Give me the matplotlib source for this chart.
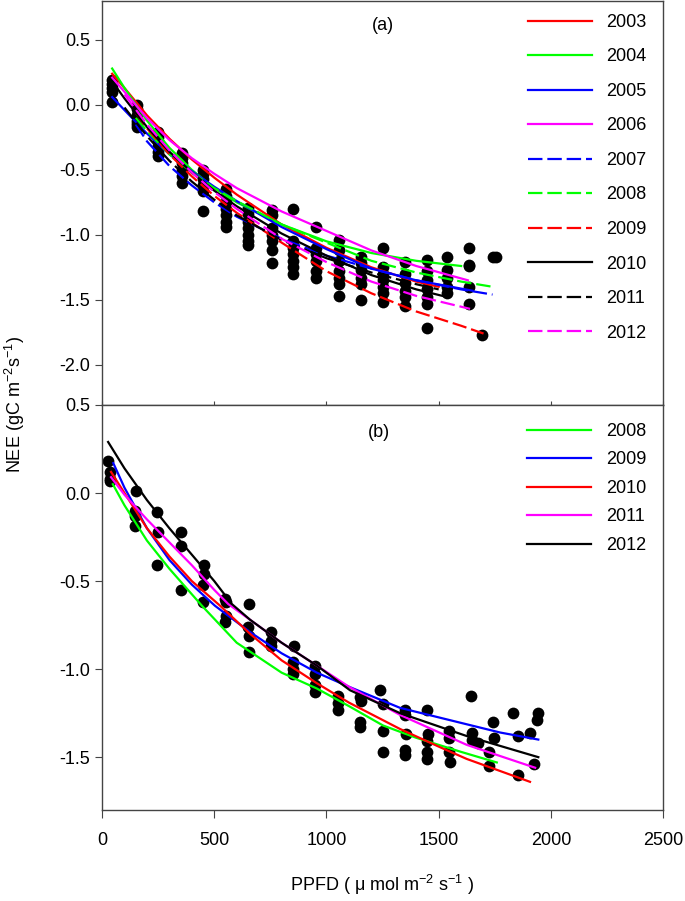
import numpy as np
import matplotlib
matplotlib.use("Agg")
import matplotlib.pyplot as plt
from matplotlib.lines import Line2D

plt.rcParams['font.family'] = ['Liberation Sans', 'DejaVu Sans']
plt.rcParams['font.size'] = 13
plt.rcParams['mathtext.fontset'] = 'custom'
plt.rcParams['mathtext.rm'] = 'Liberation Sans'
plt.rcParams['mathtext.default'] = 'regular'

# ---- panel (a): observed points (PPFD bin, NEE values)
bins_a = [45, 155, 250, 355, 452, 552, 652, 757, 852, 953, 1055, 1154, 1252,
          1350, 1448, 1537, 1636, 1693, 1740, 1756]
nee_a = [
    [0.19, 0.16, 0.13, 0.10, 0.02],
    [0.0, -0.03, -0.08, -0.12, -0.15, -0.17],
    [-0.21, -0.25, -0.28, -0.32, -0.36, -0.39],
    [-0.37, -0.41, -0.45, -0.50, -0.55, -0.60],
    [-0.50, -0.53, -0.57, -0.62, -0.66, -0.82],
    [-0.65, -0.70, -0.75, -0.80, -0.85, -0.90, -0.94],
    [-0.79, -0.84, -0.90, -0.95, -1.00, -1.05, -1.08],
    [-0.81, -0.85, -0.95, -1.00, -1.05, -1.12, -1.22],
    [-0.80, -1.05, -1.10, -1.15, -1.20, -1.25, -1.30],
    [-0.94, -1.10, -1.15, -1.20, -1.28, -1.33],
    [-1.04, -1.12, -1.20, -1.28, -1.33, -1.38, -1.47],
    [-1.17, -1.22, -1.27, -1.33, -1.38, -1.50],
    [-1.10, -1.25, -1.30, -1.35, -1.40, -1.45, -1.52],
    [-1.21, -1.30, -1.37, -1.43, -1.48, -1.55],
    [-1.19, -1.28, -1.35, -1.42, -1.48, -1.53, -1.72],
    [-1.17, -1.27, -1.33, -1.40, -1.45],
    [-1.10, -1.23, -1.24, -1.40, -1.53],
    [-1.77],
    [-1.17],
    [-1.17],
]

# ---- panel (a): fitted curves per year
years_a = ['2003', '2004', '2005', '2006', '2007', '2008', '2009', '2010', '2011', '2012']
colors_a = ['#ff0000', '#00ff00', '#0000ff', '#ff00ff', '#0000ff', '#00ff00', '#ff0000',
            'black', 'black', '#ff00ff']
dashed_a = [False, False, False, False, True, True, True, False, True, True]
curve_x_a = [
    [45, 100, 200, 300, 400, 500, 600, 800, 1000, 1200, 1400, 1500],
    [45, 100, 200, 300, 400, 500, 600, 800, 1000, 1200, 1400, 1600],
    [45, 100, 200, 300, 400, 500, 600, 800, 1000, 1200, 1400, 1650],
    [45, 100, 200, 300, 400, 500, 600, 800, 1000, 1200, 1400, 1630],
    [150, 200, 300, 400, 500, 600, 800, 1000, 1200, 1400, 1600, 1740],
    [150, 200, 300, 400, 500, 600, 800, 1000, 1200, 1400, 1600, 1740],
    [150, 200, 300, 400, 500, 600, 800, 1000, 1200, 1400, 1600, 1700],
    [45, 100, 200, 300, 400, 500, 600, 800, 1000, 1200, 1400, 1540],
    [100, 200, 300, 400, 500, 600, 800, 1000, 1200, 1400, 1500],
    [100, 200, 300, 400, 500, 600, 800, 1000, 1200, 1400, 1640],
]
curve_y_a = [
    [0.24, 0.13, -0.08, -0.26, -0.42, -0.56, -0.69, -0.92, -1.10, -1.25, -1.36, -1.40],
    [0.28, 0.13, -0.12, -0.33, -0.50, -0.64, -0.75, -0.92, -1.05, -1.14, -1.20, -1.24],
    [0.06, -0.04, -0.22, -0.38, -0.51, -0.63, -0.74, -0.94, -1.11, -1.26, -1.35, -1.43],
    [0.21, 0.10, -0.10, -0.27, -0.41, -0.53, -0.64, -0.82, -0.97, -1.12, -1.24, -1.35],
    [-0.15, -0.28, -0.47, -0.62, -0.75, -0.86, -1.03, -1.16, -1.26, -1.35, -1.42, -1.46],
    [-0.10, -0.20, -0.38, -0.52, -0.64, -0.74, -0.92, -1.06, -1.20, -1.29, -1.36, -1.40],
    [-0.06, -0.18, -0.38, -0.55, -0.70, -0.83, -1.06, -1.28, -1.45, -1.59, -1.70, -1.76],
    [0.18, 0.05, -0.17, -0.36, -0.52, -0.66, -0.78, -0.99, -1.16, -1.31, -1.42, -1.48],
    [-0.02, -0.24, -0.43, -0.59, -0.73, -0.85, -1.04, -1.18, -1.29, -1.38, -1.42],
    [0.08, -0.15, -0.35, -0.52, -0.67, -0.80, -1.03, -1.21, -1.36, -1.47, -1.57],
]

# ---- panel (b): observed points
ppfd_b = [27, 36, 36, 36, 150, 147, 147, 145, 245, 250, 245, 350, 350, 352,
          455, 455, 452, 450, 550, 552, 552, 550, 655, 652, 655, 655, 752, 752, 752,
          855, 852, 852, 850, 950, 950, 950, 950, 1052, 1052, 1052,
          1150, 1152, 1150, 1150, 1239, 1250, 1250, 1252,
          1350, 1350, 1355, 1350, 1350, 1448, 1452, 1448, 1448, 1448,
          1546, 1546, 1546, 1552, 1644, 1650, 1648, 1675,
          1743, 1748, 1726, 1726, 1832, 1854, 1854, 1907, 1943, 1940, 1925]
nee_b = [0.18, 0.12, 0.08, 0.07, 0.01, -0.10, -0.13, -0.19, -0.11, -0.22, -0.41,
         -0.22, -0.30, -0.55, -0.41, -0.46, -0.52, -0.62, -0.60, -0.62, -0.70, -0.73,
         -0.63, -0.76, -0.81, -0.90, -0.79, -0.84, -0.87,
         -0.87, -0.96, -1.00, -1.03, -0.98, -1.03, -1.09, -1.13, -1.15, -1.19, -1.23,
         -1.16, -1.18, -1.30, -1.33, -1.12, -1.20, -1.35, -1.47,
         -1.23, -1.26, -1.37, -1.46, -1.49, -1.23, -1.37, -1.41, -1.47, -1.51,
         -1.35, -1.39, -1.47, -1.53, -1.15, -1.36, -1.40, -1.42,
         -1.30, -1.39, -1.47, -1.55, -1.25, -1.38, -1.60, -1.36, -1.25, -1.29, -1.54]

# ---- panel (b): fitted curves per year
years_b = ['2008', '2009', '2010', '2011', '2012']
colors_b = ['#00ff00', '#0000ff', '#ff0000', '#ff00ff', 'black']
curve_x_b = [
    [48, 100, 200, 300, 445, 600, 800, 957, 1100, 1252, 1400, 1600, 1759],
    [50, 100, 200, 300, 400, 503, 660, 800, 957, 1100, 1328, 1551, 1774, 1944],
    [40, 100, 200, 300, 400, 526, 660, 800, 957, 1100, 1328, 1500, 1625, 1907],
    [40, 100, 200, 300, 400, 500, 562, 660, 800, 957, 1100, 1328, 1625, 1930],
    [27, 100, 200, 300, 400, 500, 578, 660, 800, 957, 1105, 1328, 1625, 1944],
]
curve_y_b = [
    [0.05, -0.07, -0.27, -0.43, -0.64, -0.85, -1.02, -1.11, -1.21, -1.32, -1.39, -1.47, -1.53],
    [0.17, 0.03, -0.20, -0.38, -0.52, -0.64, -0.79, -0.91, -1.02, -1.10, -1.22, -1.29, -1.36, -1.40],
    [0.12, 0.0, -0.20, -0.36, -0.50, -0.64, -0.80, -0.95, -1.08, -1.19, -1.34, -1.44, -1.51, -1.64],
    [0.09, -0.01, -0.15, -0.28, -0.41, -0.55, -0.63, -0.72, -0.85, -0.98, -1.10, -1.26, -1.43, -1.56],
    [0.29, 0.14, -0.04, -0.20, -0.35, -0.50, -0.63, -0.72, -0.85, -0.98, -1.12, -1.25, -1.38, -1.50],
]

fig = plt.figure(figsize=(6.85, 9.01), dpi=100)
ax1 = fig.add_axes([0.149, 0.5505, 0.819, 0.4484])
ax2 = fig.add_axes([0.149, 0.101, 0.819, 0.4495])

lw = 1.6
dash = (6.5, 2.2)
spine_c = '#444444'

# panel a
pa_x, pa_y = [], []
for bx, ys in zip(bins_a, nee_a):
    pa_x += [bx] * len(ys)
    pa_y += ys
ax1.scatter(pa_x, pa_y, s=72, color='black', zorder=2, linewidths=0)
handles_a = []
for i in range(len(years_a)):
    ls = (0, dash) if dashed_a[i] else '-'
    ax1.plot(curve_x_a[i], curve_y_a[i], color=colors_a[i], lw=lw, ls=ls, zorder=3)
    handles_a.append(Line2D([], [], color=colors_a[i], lw=lw, ls=ls))
ax1.legend(handles_a, years_a, loc='upper left', bbox_to_anchor=(0.759, 0.968),
           frameon=False, borderpad=0, borderaxespad=0, handlelength=3.55,
           handletextpad=0.8, labelspacing=0.97)
ax1.text(0.501, 0.94, '(a)', transform=ax1.transAxes, ha='center', va='center')
ax1.set_xlim(0, 2500)
ax1.set_ylim(-2.31, 0.8)
ax1.set_yticks([-2.0, -1.5, -1.0, -0.5, 0.0, 0.5])
ax1.set_yticklabels(['-2.0', '-1.5', '-1.0', '-0.5', '0.0', '0.5'])
ax1.set_xticks([0, 500, 1000, 1500, 2000, 2500])
ax1.tick_params(axis='x', direction='in', length=3, labelbottom=False, color=spine_c)
ax1.tick_params(axis='y', direction='out', length=5, color=spine_c)

# panel b
ax2.scatter(ppfd_b, nee_b, s=72, color='black', zorder=2, linewidths=0)
handles_b = []
for i in range(len(years_b)):
    ax2.plot(curve_x_b[i], curve_y_b[i], color=colors_b[i], lw=lw, zorder=3)
    handles_b.append(Line2D([], [], color=colors_b[i], lw=lw))
ax2.legend(handles_b, years_b, loc='upper left', bbox_to_anchor=(0.758, 0.956),
           frameon=False, borderpad=0, borderaxespad=0, handlelength=3.55,
           handletextpad=0.8, labelspacing=0.64)
ax2.text(0.494, 0.933, '(b)', transform=ax2.transAxes, ha='center', va='center')
ax2.set_xlim(0, 2500)
ax2.set_ylim(-1.8, 0.5)
ax2.set_yticks([-1.5, -1.0, -0.5, 0.0, 0.5])
ax2.set_yticklabels(['-1.5', '-1.0', '-0.5', '0.0', '0.5'])
ax2.set_xticks([0, 500, 1000, 1500, 2000, 2500])
ax2.tick_params(axis='x', direction='out', length=6, pad=10, color=spine_c)
ax2.tick_params(axis='y', direction='out', length=5, color=spine_c)

for ax in (ax1, ax2):
    for sp in ax.spines.values():
        sp.set_color(spine_c)
        sp.set_linewidth(1.0)

fig.text(0.022, 1 - 405 / 901, 'NEE (gC m$^{-2}$s$^{-1}$)', rotation=90,
         ha='center', va='center')
fig.text(382 / 685, 1 - 885 / 901, 'PPFD ( \u03bc mol m$^{-2}$ s$^{-1}$ )',
         ha='center', va='center')

fig.savefig('out.png', dpi=100)
